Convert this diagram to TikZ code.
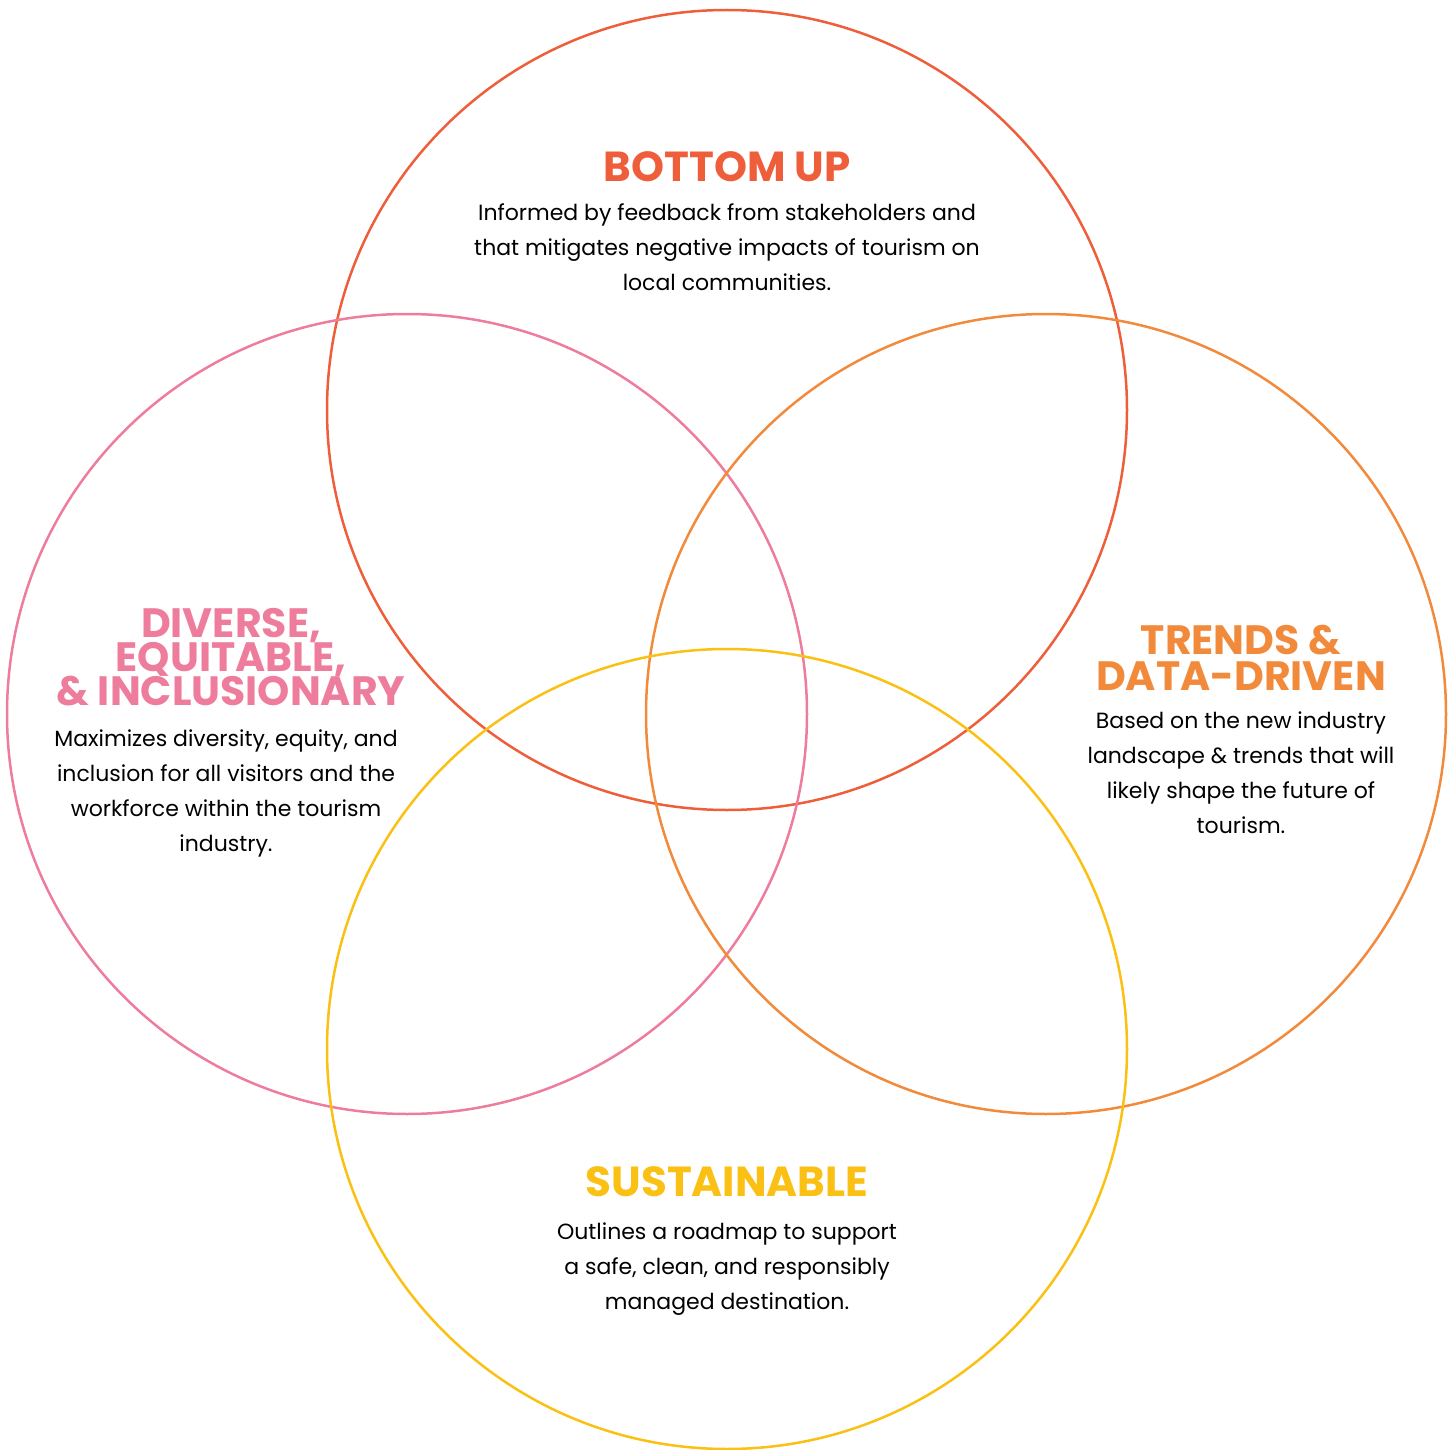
\documentclass[tikz,border=0pt]{standalone}
\usepackage{fontspec}
\setmainfont{Poppins}
\usetikzlibrary{positioning}

\definecolor{upred}{HTML}{EF5E3A}
\definecolor{deipink}{HTML}{EE7C9C}
\definecolor{trendorange}{HTML}{F28A3C}
\definecolor{sustyellow}{HTML}{FBC014}

% let the heading lines sit closer than the glyphs allow
\newcommand{\tightlines}{\lineskiplimit=-20pt\relax}

\tikzset{
  ring/.style={line width=1.25pt},
  heading/.style={font=\bfseries\fontsize{21}{17.5}\selectfont\tightlines, align=center, inner sep=0pt, anchor=south},
  blurb/.style={font=\fontsize{11}{17.5}\selectfont, align=center, inner sep=0pt, anchor=north, text=black}
}

\begin{document}
\begin{tikzpicture}[x=0.5pt,y=-0.5pt]
  \useasboundingbox (0,0) rectangle (1453,1450);

  % four overlapping circles
  \draw[ring,upred]        (727,410)  circle [radius=200pt];
  \draw[ring,deipink]      (407,714)  circle [radius=200pt];
  \draw[ring,trendorange]  (1046,714) circle [radius=200pt];
  \draw[ring,sustyellow]   (727,1049) circle [radius=200pt];

  % top
  \node[heading,text=upred] (uptitle) at (727,182) {BOTTOM UP};
  \node[blurb] (uptext) at (727,203)
    {Informed by feedback from stakeholders and\\
     that mitigates negative impacts of tourism on\\
     local communities.};

  % left
  \node[heading,text=deipink,font=\bfseries\fontsize{20.5}{17}\selectfont\tightlines] (deititle) at (231,706)
    {DIVERSE,\\ EQUITABLE,\\ \& INCLUSIONARY};
  \node[blurb] (deitext) at (226,729)
    {Maximizes diversity, equity, and\\
     inclusion for all visitors and the\\
     workforce within the tourism\\
     industry.};

  % right
  \node[heading,text=trendorange,font=\bfseries\fontsize{20.5}{18}\selectfont\tightlines] (trendtitle) at (1241,691)
    {TRENDS \&\\ DATA-DRIVEN};
  \node[blurb] (trendtext) at (1241,711)
    {Based on the new industry\\
     landscape \& trends that will\\
     likely shape the future of\\
     tourism.};

  % bottom
  \node[heading,text=sustyellow] (susttitle) at (727,1197) {SUSTAINABLE};
  \node[blurb] (susttext) at (727,1222)
    {Outlines a roadmap to support\\
     a safe, clean, and responsibly\\
     managed destination.};
\end{tikzpicture}
\end{document}
